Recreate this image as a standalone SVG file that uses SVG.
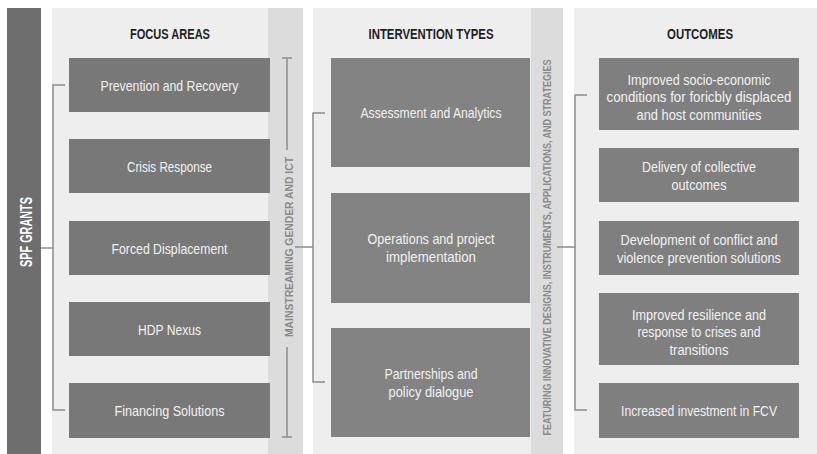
<svg xmlns="http://www.w3.org/2000/svg" width="817" height="454" viewBox="0 0 817 454">
<style>
.panel{fill:#eeeeee}
.bar{fill:#dcdcdc}
.fa{fill:#787878}
.it{fill:#838383}
.oc{fill:#7f7f7f}
.bt{font-family:"Liberation Sans",Arial,sans-serif;font-size:15px;fill:#f2f2f2;text-anchor:middle}
.hd{font-family:"Liberation Sans",Arial,sans-serif;font-size:14px;font-weight:bold;fill:#1e1e1e;text-anchor:middle}
.vt{font-family:"Liberation Sans",Arial,sans-serif;font-size:11.5px;font-weight:bold;fill:#8a8a8a;text-anchor:middle}
.conn path{fill:none;stroke:#8c8c8c;stroke-width:1.5}
</style>
<rect width="817" height="454" fill="#ffffff"/>
<g id="spf-grants">
<rect x="7" y="8" width="34" height="446" fill="#6e6e6e"/>
<text transform="translate(26,232) rotate(-90)" y="6" font-family="Liberation Sans,Arial,sans-serif" font-size="16" font-weight="bold" fill="#ffffff" text-anchor="middle" textLength="70" lengthAdjust="spacingAndGlyphs">SPF GRANTS</text>
</g>
<g id="focus-panel">
<rect class="panel" x="52" y="8" width="216" height="446"/>
<text class="hd" x="170" y="39" textLength="80" lengthAdjust="spacingAndGlyphs">FOCUS AREAS</text>
</g>
<g id="mainstreaming-bar">
<rect class="bar" x="268" y="8" width="35" height="446"/>
<text class="vt" transform="translate(288,247) rotate(-90)" y="4.5" textLength="180" lengthAdjust="spacingAndGlyphs">MAINSTREAMING GENDER AND ICT</text>
</g>
<g id="intervention-panel">
<rect class="panel" x="313" y="8" width="218" height="446"/>
<text class="hd" x="431" y="39" textLength="125" lengthAdjust="spacingAndGlyphs">INTERVENTION TYPES</text>
</g>
<g id="featuring-bar">
<rect class="bar" x="531" y="8" width="32" height="446"/>
<text class="vt" transform="translate(546,247.5) rotate(-90)" y="4.5" textLength="376" lengthAdjust="spacingAndGlyphs">FEATURING INNOVATIVE DESIGNS, INSTRUMENTS, APPLICATIONS, AND STRATEGIES</text>
</g>
<g id="outcomes-panel">
<rect class="panel" x="574" y="8" width="243" height="446"/>
<text class="hd" x="700" y="39" textLength="66" lengthAdjust="spacingAndGlyphs">OUTCOMES</text>
</g>
<g class="conn" id="connectors">
<path d="M41 248H53"/>
<path d="M65 85H53V410H65"/>
<path d="M282 58H292M287 58V150M287 347V437M282 437H292"/>
<path d="M295 247H313"/>
<path d="M325 113H313V382H325"/>
<path d="M557 247H575"/>
<path d="M587 95H575V410H587"/>
</g>
<g id="fa-prevention"><rect class="fa" x="69" y="58" width="201" height="54"/><text class="bt" x="169.5" y="91" textLength="138" lengthAdjust="spacingAndGlyphs">Prevention and Recovery</text></g>
<g id="fa-crisis"><rect class="fa" x="69" y="139" width="201" height="54"/><text class="bt" x="169.5" y="172" textLength="85" lengthAdjust="spacingAndGlyphs">Crisis Response</text></g>
<g id="fa-forced"><rect class="fa" x="69" y="221" width="201" height="54"/><text class="bt" x="169.5" y="254" textLength="116" lengthAdjust="spacingAndGlyphs">Forced Displacement</text></g>
<g id="fa-hdp"><rect class="fa" x="69" y="302" width="201" height="54"/><text class="bt" x="169.5" y="335" textLength="63" lengthAdjust="spacingAndGlyphs">HDP Nexus</text></g>
<g id="fa-financing"><rect class="fa" x="69" y="383" width="201" height="55"/><text class="bt" x="169.5" y="416" textLength="110" lengthAdjust="spacingAndGlyphs">Financing Solutions</text></g>
<g id="it-assessment"><rect class="it" x="331" y="58" width="199" height="109"/><text class="bt" x="431" y="118" textLength="141" lengthAdjust="spacingAndGlyphs">Assessment and Analytics</text></g>
<g id="it-operations"><rect class="it" x="331" y="193" width="199" height="110"/><text class="bt" x="431" y="244" textLength="127" lengthAdjust="spacingAndGlyphs">Operations and project</text><text class="bt" x="431" y="261.5" textLength="90" lengthAdjust="spacingAndGlyphs">implementation</text></g>
<g id="it-partnerships"><rect class="it" x="331" y="328" width="199" height="109"/><text class="bt" x="431" y="379" textLength="93" lengthAdjust="spacingAndGlyphs">Partnerships and</text><text class="bt" x="431" y="396.5" textLength="85" lengthAdjust="spacingAndGlyphs">policy dialogue</text></g>
<g id="oc-socio"><rect class="oc" x="599" y="58" width="200" height="72"/><text class="bt" x="699" y="84.5" textLength="143" lengthAdjust="spacingAndGlyphs">Improved socio-economic</text><text class="bt" x="699" y="102" textLength="185" lengthAdjust="spacingAndGlyphs">conditions for foricbly displaced</text><text class="bt" x="699" y="119.5" textLength="125" lengthAdjust="spacingAndGlyphs">and host communities</text></g>
<g id="oc-delivery"><rect class="oc" x="599" y="148" width="200" height="54"/><text class="bt" x="699" y="172" textLength="114" lengthAdjust="spacingAndGlyphs">Delivery of collective</text><text class="bt" x="699" y="189.5" textLength="55" lengthAdjust="spacingAndGlyphs">outcomes</text></g>
<g id="oc-conflict"><rect class="oc" x="599" y="221" width="200" height="54"/><text class="bt" x="699" y="245" textLength="157" lengthAdjust="spacingAndGlyphs">Development of conflict and</text><text class="bt" x="699" y="262.5" textLength="164" lengthAdjust="spacingAndGlyphs">violence prevention solutions</text></g>
<g id="oc-resilience"><rect class="oc" x="599" y="293" width="200" height="72"/><text class="bt" x="699" y="319.5" textLength="134" lengthAdjust="spacingAndGlyphs">Improved resilience and</text><text class="bt" x="699" y="337" textLength="123" lengthAdjust="spacingAndGlyphs">response to crises and</text><text class="bt" x="699" y="354.5" textLength="59" lengthAdjust="spacingAndGlyphs">transitions</text></g>
<g id="oc-investment"><rect class="oc" x="599" y="383" width="200" height="55"/><text class="bt" x="699" y="416" textLength="156" lengthAdjust="spacingAndGlyphs">Increased investment in FCV</text></g>
</svg>
